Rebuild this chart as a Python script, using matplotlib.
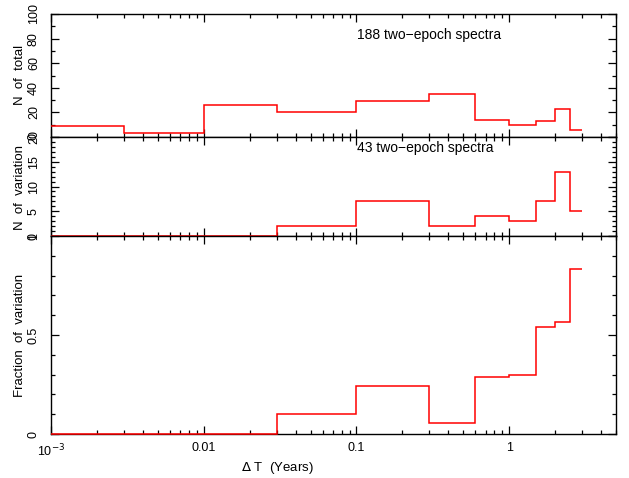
import matplotlib
matplotlib.use("Agg")
import matplotlib.pyplot as plt
import numpy as np
from matplotlib.ticker import FixedLocator, MultipleLocator, LogLocator, NullFormatter, FuncFormatter

plt.rcParams['font.family'] = ['Liberation Sans', 'DejaVu Sans']

# Time-separation bin edges (years)
bin_edges = [0.001, 0.003, 0.01, 0.03, 0.1, 0.3, 0.6, 1.0, 1.5, 2.0, 2.5, 3.0]
# Number of two-epoch spectra per bin
n_total = [9, 3, 26, 20, 29, 35, 14, 10, 13, 23, 6]
# Number showing variation per bin
n_variation = [0, 0, 0, 2, 7, 2, 4, 3, 7, 13, 5]

frac_variation = np.array(n_variation) / np.array(n_total)

fig = plt.figure(figsize=(6.29, 4.78), dpi=100)
left, right = 51 / 629, 616 / 629
y_px = [14, 137, 236, 434]
H = 478
axes = []
for i in range(3):
    top = 1 - y_px[i] / H
    bot = 1 - y_px[i + 1] / H
    axes.append(fig.add_axes([left, bot, right - left, top - bot]))
ax1, ax2, ax3 = axes

red = '#ff0000'
ax1.stairs(n_total, bin_edges, baseline=None, color=red, lw=1.1, zorder=3, clip_on=False)
ax2.stairs(n_variation, bin_edges, baseline=None, color=red, lw=1.1, zorder=3, clip_on=False)
ax3.stairs(frac_variation, bin_edges, baseline=None, color=red, lw=1.1, zorder=3, clip_on=False)

for ax in axes:
    ax.set_xscale('log')
    ax.set_xlim(1e-3, 5.0)
    ax.xaxis.set_major_locator(LogLocator(base=10, numticks=10))
    ax.xaxis.set_minor_locator(LogLocator(base=10, subs=np.arange(2, 10), numticks=20))
    ax.xaxis.set_minor_formatter(NullFormatter())
    ax.tick_params(which='both', direction='in', top=True, right=True, width=0.9, colors='black')
    ax.tick_params(which='major', length=5.5)
    ax.tick_params(which='minor', length=2.8)
    ax.tick_params(axis='y', labelrotation=90, pad=8, labelsize=9)
    for lbl in ax.get_yticklabels():
        lbl.set_va('center')
    for s in ax.spines.values():
        s.set_linewidth(1.0)

ax1.tick_params(axis='x', labelbottom=False)
ax2.tick_params(axis='x', labelbottom=False)

ax1.set_ylim(0, 100)
ax1.yaxis.set_major_locator(MultipleLocator(20))
ax1.yaxis.set_minor_locator(MultipleLocator(10))

ax2.set_ylim(0, 20)
ax2.yaxis.set_major_locator(MultipleLocator(5))
ax2.yaxis.set_minor_locator(MultipleLocator(1))

ax3.set_ylim(0, 1)
ax3.yaxis.set_major_locator(FixedLocator([0, 0.5, 1.0]))
ax3.yaxis.set_minor_locator(MultipleLocator(0.1))
ax3.yaxis.set_major_formatter(FuncFormatter(lambda v, p: '0' if v == 0 else ('1' if v == 1 else f'{v:g}')))


def xfmt(v, p):
    if abs(v - 1e-3) < 1e-9:
        return r'10$^{-3}$'
    return f'{v:g}'


ax3.xaxis.set_major_formatter(FuncFormatter(xfmt))
ax3.tick_params(axis='x', labelsize=9, pad=6)

for ax in axes:
    for lbl in ax.get_yticklabels():
        lbl.set_va('center')

fig.text(20 / 629, 1 - 75 / H, 'N  of  total', rotation=90, ha='center', va='center', fontsize=9.5)
fig.text(20 / 629, 1 - 187 / H, 'N  of  variation', rotation=90, ha='center', va='center', fontsize=9.5)
fig.text(20 / 629, 1 - 335 / H, 'Fraction  of  variation', rotation=90, ha='center', va='center', fontsize=9.5)
fig.text(277 / 629, 1 - 468 / H, r'$\Delta$ T  (Years)', ha='center', va='center', fontsize=9.5)

ax1.text(357 / 629, 1 - 35 / H, '188 two\u2212epoch spectra', transform=fig.transFigure,
         ha='left', va='center', fontsize=10)
ax2.text(357 / 629, 1 - 148 / H, '43 two\u2212epoch spectra', transform=fig.transFigure,
         ha='left', va='center', fontsize=10)

fig.savefig('out.png', dpi=100)
